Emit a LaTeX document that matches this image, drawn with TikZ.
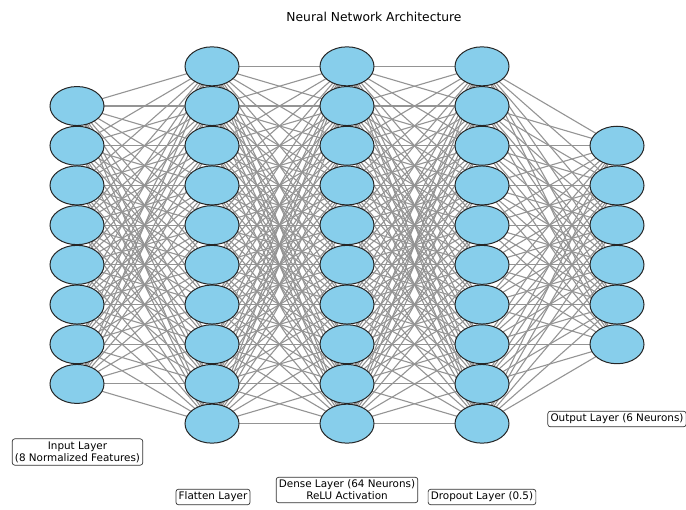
\documentclass[tikz,border=0pt]{standalone}
\usepackage{fontspec}
\setmainfont{DejaVu Sans}
\usetikzlibrary{shapes.geometric}
\begin{document}
\begin{tikzpicture}[x=1pt,y=-1pt,
  neuron/.style={ellipse,draw=black!85,line width=1pt,fill={rgb,255:red,135;green,206;blue,235},minimum width=54pt,minimum height=39pt,inner sep=0pt},
  conn/.style={draw=black!42,line width=1.1pt},
  lbl/.style={draw=black!80,rounded corners=2.5pt,fill=white,line width=0.7pt,inner sep=2.7pt,font=\fontsize{10.4}{12}\selectfont,align=center}]
\useasboundingbox (0,0) rectangle (686,510);
\def\sp{39.7}
\foreach \i in {1,...,8} \coordinate (a\i) at (77,{245+(\i-4.5)*\sp});
\foreach \i in {1,...,10} \coordinate (b\i) at (212,{245+(\i-5.5)*\sp});
\foreach \i in {1,...,10} \coordinate (c\i) at (347,{245+(\i-5.5)*\sp});
\foreach \i in {1,...,10} \coordinate (d\i) at (482,{245+(\i-5.5)*\sp});
\foreach \i in {1,...,6} \coordinate (e\i) at (617,{245+(\i-3.5)*\sp});
% connections
\foreach \i in {1,...,8} \foreach \j in {1,...,10} \draw[conn] (a\i) -- (b\j);
\foreach \i in {1,...,10} \foreach \j in {1,...,10} \draw[conn] (b\i) -- (c\j);
\foreach \i in {1,...,10} \foreach \j in {1,...,10} \draw[conn] (c\i) -- (d\j);
\foreach \i in {1,...,10} \foreach \j in {1,...,6} \draw[conn] (d\i) -- (e\j);
% neurons
\foreach \i in {1,...,8} \node[neuron] (na\i) at (a\i) {};
\foreach \i in {1,...,10} \node[neuron] (nb\i) at (b\i) {};
\foreach \i in {1,...,10} \node[neuron] (nc\i) at (c\i) {};
\foreach \i in {1,...,10} \node[neuron] (nd\i) at (d\i) {};
\foreach \i in {1,...,6} \node[neuron] (ne\i) at (e\i) {};
% title
\node[font=\fontsize{12.3}{14}\selectfont] (title) at (374,17) {Neural Network Architecture};
% labels
\node[lbl] (linput) at (77.5,452) {Input Layer\\(8 Normalized Features)};
\node[lbl] (lflat) at (213,497) {Flatten Layer};
\node[lbl] (ldense) at (347,490) {Dense Layer (64 Neurons)\\ReLU Activation};
\node[lbl] (ldrop) at (482,497) {Dropout Layer (0.5)};
\node[lbl] (lout) at (617,419) {Output Layer (6 Neurons)};
\end{tikzpicture}
\end{document}
